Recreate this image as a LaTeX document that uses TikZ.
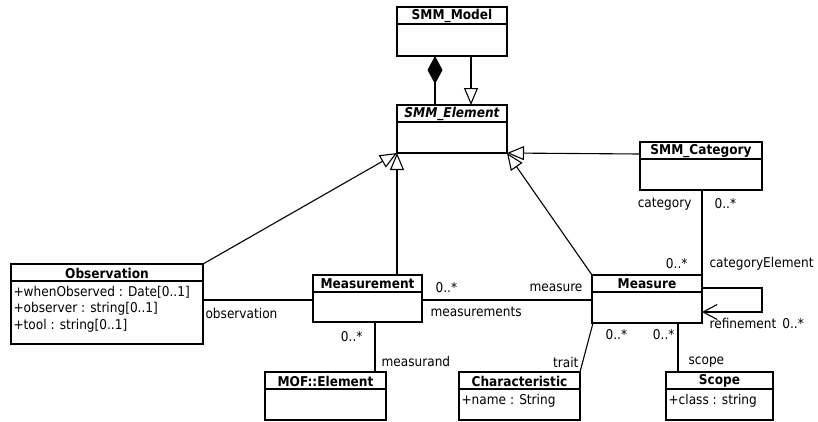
\documentclass[tikz,border=0pt]{standalone}
\usepackage{fontspec}
\setmainfont{DejaVu Sans Condensed}
\usetikzlibrary{arrows.meta}
\begin{document}
\begin{tikzpicture}[x=1pt,y=-1pt,line width=1.1pt,
  box/.style={draw, rectangle, anchor=north west, inner sep=0pt, outer sep=0pt},
  ttl/.style={font=\fontsize{13.5}{15}\selectfont\bfseries, inner sep=0pt},
  attr/.style={font=\fontsize{13.5}{15}\selectfont, anchor=west, inner sep=0pt},
  lbl/.style={font=\fontsize{13.5}{15}\selectfont, inner sep=0pt},
  gen/.style={-{Triangle[open,length=17pt,width=14pt]}},
  comp/.style={{Diamond[length=28pt,width=15pt]}-},
  nav/.style={-{Straight Barb[length=14pt,width=15pt]}}]
\useasboundingbox (0,0) rectangle (818,421);

% class boxes
\node[box, minimum width=110, minimum height=49] (model) at (397,7) {};
\node[box, minimum width=110, minimum height=48] (element) at (397,105) {};
\node[box, minimum width=122, minimum height=48] (category) at (640,142) {};
\node[box, minimum width=192, minimum height=80] (obs) at (11,264) {};
\node[box, minimum width=109, minimum height=47] (meas) at (313,275) {};
\node[box, minimum width=110, minimum height=48] (measure) at (592,275) {};
\node[box, minimum width=121, minimum height=48] (mof) at (265,372) {};
\node[box, minimum width=121, minimum height=48] (charac) at (459,372) {};
\node[box, minimum width=107, minimum height=48] (scope) at (666,372) {};

% title compartments
\foreach \c in {model,element,category,obs,meas,measure,mof,charac,scope}
  \draw ([yshift=-17pt]\c.north west) -- ([yshift=-17pt]\c.north east);

\node[ttl] (modelT) at ([yshift=-9pt]model.north) {SMM\_Model};
\node[ttl, font=\fontsize{13.5}{15}\selectfont\bfseries\itshape] (elementT) at ([yshift=-9pt]element.north) {SMM\_Element};
\node[ttl] (categoryT) at ([yshift=-9pt]category.north) {SMM\_Category};
\node[ttl] (obsT) at ([yshift=-9pt]obs.north) {Observation};
\node[ttl] (measT) at ([yshift=-9pt]meas.north) {Measurement};
\node[ttl] (measureT) at ([yshift=-9pt]measure.north) {Measure};
\node[ttl] (mofT) at ([yshift=-9pt]mof.north) {MOF::Element};
\node[ttl] (characT) at ([yshift=-9pt]charac.north) {Characteristic};
\node[ttl] (scopeT) at ([yshift=-9pt]scope.north) {Scope};

% attributes
\node[attr] (obsA1) at ([xshift=2pt,yshift=-28pt]obs.north west) {+whenObserved : Date[0..1]};
\node[attr] (obsA2) at ([xshift=2pt,yshift=-45pt]obs.north west) {+observer : string[0..1]};
\node[attr] (obsA3) at ([xshift=2pt,yshift=-62pt]obs.north west) {+tool : string[0..1]};
\node[attr] (characA) at ([xshift=2pt,yshift=-29pt]charac.north west) {+name : String};
\node[attr] (scopeA) at ([xshift=2pt,yshift=-29pt]scope.north west) {+class : string};

% composition and generalizations
\draw[comp] ([xshift=38pt]model.south west) -- ([xshift=38pt]element.north west);
\draw[gen] ([xshift=74pt]model.south west) -- ([xshift=74pt]element.north west);
\draw[gen] (obs.north east) -- (element.south west);
\draw[gen] (meas.north -| element.south west) -- (element.south west);
\draw[gen] (measure.north west) -- (element.south east);
\draw[gen] ([yshift=-12pt]category.north west) -- (element.south east);

% associations
\draw ([yshift=-36pt]obs.north east) -- ([yshift=-25pt]meas.north west);
\draw ([yshift=-25pt]meas.north east) -- ([yshift=-25pt]measure.north west);
\draw ([xshift=62pt]meas.south west) -- ([xshift=110pt]mof.north west);
\draw ([xshift=1pt]measure.south west) -- (charac.north east);
\draw ([xshift=86pt]measure.south west) -- ([xshift=12pt]scope.north west);
\draw ([xshift=62pt]category.south west) -- (measure.north east);
\draw[nav] ([yshift=-13pt]measure.north east) -- ++(60,0) -- ++(0,24) -- ([yshift=-37pt]measure.north east);

% association end labels
\node[lbl, anchor=west] (lObs) at (205,313) {observation};
\node[lbl, anchor=west] (lMult1) at (435,288) {0..*};
\node[lbl, anchor=west] (lMeasurements) at (430,312) {measurements};
\node[lbl, anchor=east] (lMeasure) at (583,288) {measure};
\node[lbl, anchor=east] (lMult2) at (363,337) {0..*};
\node[lbl, anchor=west] (lMeasurand) at (381,361) {measurand};
\node[lbl, anchor=east] (lTrait) at (579,362) {trait};
\node[lbl, anchor=west] (lMult3) at (605,335) {0..*};
\node[lbl, anchor=east] (lMult4) at (675,335) {0..*};
\node[lbl, anchor=west] (lScope) at (688,362) {scope};
\node[lbl, anchor=east] (lCategory) at (692,204) {category};
\node[lbl, anchor=west] (lMult5) at (714,204) {0..*};
\node[lbl, anchor=east] (lMult6) at (688,264) {0..*};
\node[lbl, anchor=west] (lCatElem) at (709,264) {categoryElement};
\node[lbl, anchor=west] (lRefine) at (709,323) {refinement\hspace{6pt}0..*};
\end{tikzpicture}
\end{document}
